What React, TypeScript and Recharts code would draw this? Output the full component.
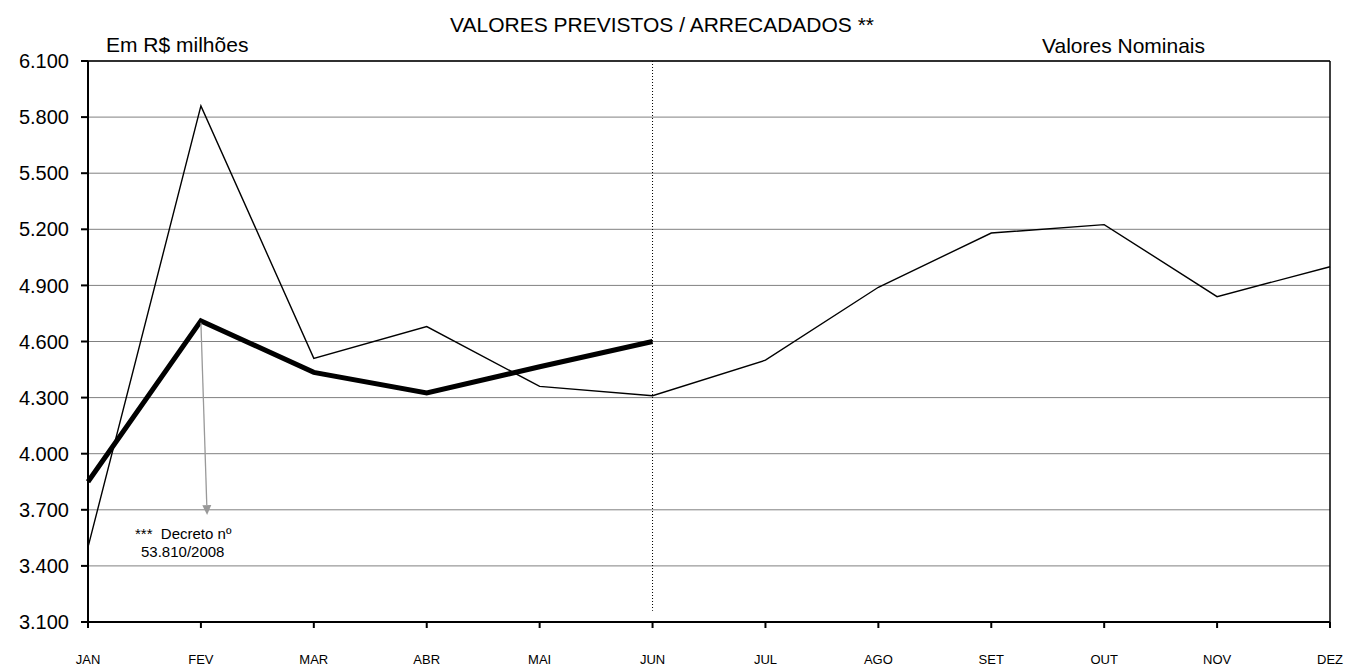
import { CartesianGrid, Line, LineChart, ReferenceLine, XAxis, YAxis } from "recharts";

const months = ["JAN", "FEV", "MAR", "ABR", "MAI", "JUN", "JUL", "AGO", "SET", "OUT", "NOV", "DEZ"];
const previsto = [3500, 5860, 4510, 4680, 4360, 4310, 4500, 4890, 5180, 5225, 4840, 5000];
const arrecadado = [3850, 4710, 4435, 4325, 4465, 4600];
const yTicks = [3100, 3400, 3700, 4000, 4300, 4600, 4900, 5200, 5500, 5800, 6100];

const data = months.map((m, i) => ({
  idx: i,
  month: m,
  previsto: previsto[i],
  arrecadado: i < arrecadado.length ? arrecadado[i] : null,
}));

const font = "'Liberation Sans', Arial, sans-serif";

function ArrowShape(props: any) {
  const { x1, y1, x2, y2 } = props;
  const ang = Math.atan2(y2 - y1, x2 - x1);
  const len = 10;
  const half = 4.5;
  const bx = x2 - len * Math.cos(ang);
  const by = y2 - len * Math.sin(ang);
  const px = -Math.sin(ang) * half;
  const py = Math.cos(ang) * half;
  return (
    <g>
      <line x1={x1} y1={y1} x2={bx} y2={by} stroke="#999" strokeWidth={1.3} />
      <polygon points={`${x2},${y2} ${bx + px},${by + py} ${bx - px},${by - py}`} fill="#999" />
    </g>
  );
}

const txt = (style: React.CSSProperties, s: string) => (
  <div style={{ position: "absolute", fontFamily: font, color: "#000", whiteSpace: "pre", lineHeight: 1, ...style }}>{s}</div>
);

export default function App() {
  return (
    <div style={{ position: "absolute", left: 0, top: 0, width: 1346, height: 666, background: "#fff" }}>
      <LineChart width={1346} height={666} data={data} margin={{ top: 61, right: 16, bottom: 0, left: 0 }}>
        <CartesianGrid vertical={false} stroke="#808080" strokeWidth={1} />
        <XAxis
          dataKey="idx"
          type="number"
          domain={[0, 11]}
          ticks={months.map((_, i) => i)}
          tickFormatter={(v: number) => months[v]}
          height={44}
          tickSize={6}
          tickMargin={27}
          stroke="#000"
          strokeWidth={2}
          tick={{ fontSize: 13, fill: "#000", fontFamily: font }}
          interval={0}
        />
        <YAxis
          type="number"
          domain={[3100, 6100]}
          ticks={yTicks}
          tickFormatter={(v: number) => (v / 1000).toFixed(3)}
          width={88}
          tickSize={7}
          tickMargin={12}
          stroke="#000"
          strokeWidth={2}
          tick={{ fontSize: 20, fill: "#000", fontFamily: font }}
          interval={0}
        />
        <ReferenceLine y={6100} stroke="#000" strokeWidth={1.5} />
        <ReferenceLine x={11} stroke="#000" strokeWidth={1.5} />
        <ReferenceLine
          segment={[{ x: 5, y: 6100 }, { x: 5, y: 3160 }]}
          stroke="#000"
          strokeWidth={1}
          strokeDasharray="1 2"
        />
        <Line
          dataKey="previsto"
          stroke="#000"
          strokeWidth={1.4}
          dot={false}
          type="linear"
          isAnimationActive={false}
        />
        <Line
          dataKey="arrecadado"
          stroke="#000"
          strokeWidth={5}
          dot={false}
          type="linear"
          connectNulls={false}
          isAnimationActive={false}
        />
        <ReferenceLine
          segment={[{ x: 1, y: 4700 }, { x: 1.055, y: 3672 }]}
          shape={<ArrowShape />}
        />
      </LineChart>
      {txt({ left: 450, top: 14, fontSize: 21 }, "VALORES PREVISTOS / ARRECADADOS **")}
      {txt({ left: 106, top: 34, fontSize: 21 }, "Em R$ milhões")}
      {txt({ left: 1042, top: 35, fontSize: 21 }, "Valores Nominais")}
      {txt({ left: 135, top: 526, fontSize: 15 }, "***  Decreto nº")}
      {txt({ left: 141, top: 544, fontSize: 15 }, "53.810/2008")}
    </div>
  );
}
